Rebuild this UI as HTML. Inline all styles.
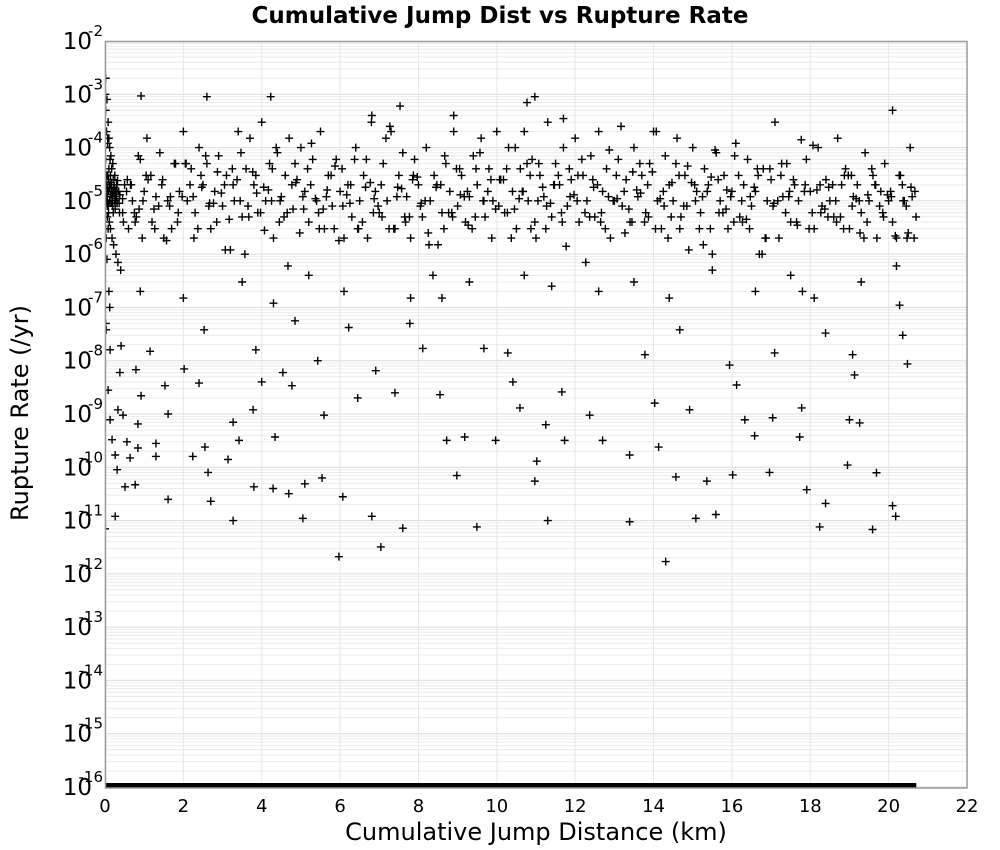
<!DOCTYPE html>
<html><head><meta charset="utf-8"><style>
html,body{margin:0;padding:0;background:#fff;}
svg{display:block;font-family:"Liberation Sans","DejaVu Sans",sans-serif;}
</style></head><body>
<svg id="chart" width="1000" height="850">
<text x="500" y="23" text-anchor="middle" font-size="23" font-weight="bold" font-family="DejaVu Sans, sans-serif">Cumulative Jump Dist vs Rupture Rate</text>
<g id="grid"></g>
<g id="yticks"></g>
<g id="xticks"></g>
<defs><clipPath id="pc"><rect x="105" y="41" width="862" height="747"/></clipPath></defs>
<g id="marks" clip-path="url(#pc)"></g>
<rect x="105.5" y="41.5" width="861.5" height="746.5" fill="none" stroke="#9a9a9a" stroke-width="1.5"/>
<text x="536" y="840" text-anchor="middle" font-size="24" font-family="DejaVu Sans, sans-serif">Cumulative Jump Distance (km)</text>
<text transform="translate(28,413) rotate(-90)" text-anchor="middle" font-size="24" font-family="DejaVu Sans, sans-serif">Rupture Rate (/yr)</text>
</svg>
<script>
const xTicks = [0,2,4,6,8,10,12,14,16,18,20,22];
const yExps = [-2,-3,-4,-5,-6,-7,-8,-9,-10,-11,-12,-13,-14,-15,-16];
const bandX = [
0.02,0.05,0.08,0.1,0.12,0.15,0.2,0.25,0.3,0.35,
0.03,0.06,0.09,0.11,0.14,0.18,0.22,0.28,0.33,0.4,
0.04,0.07,0.13,0.17,0.21,0.24,0.27,0.31,0.38,0.45,
0.5,0.55,0.6,0.7,0.75,0.85,0.9,0.95,1.0,1.1,
1.2,1.3,1.4,1.5,1.6,1.7,1.8,1.9,2.0,2.1,
2.2,2.3,2.4,2.5,2.6,2.7,2.8,2.9,3.0,3.1,
3.2,3.3,3.4,3.5,3.6,3.7,3.8,3.9,4.0,4.1,
4.2,4.3,4.4,4.5,4.6,4.7,4.8,4.9,5.0,5.1,
5.2,5.3,5.4,5.5,5.6,5.7,5.8,5.9,6.0,6.1,
6.2,6.3,6.4,6.5,6.6,6.7,6.8,6.9,7.0,7.1,
7.2,7.3,7.4,7.5,7.6,7.7,7.8,7.9,8.0,8.1,
8.2,8.3,8.4,8.5,8.6,8.7,8.8,8.9,9.0,9.1,
9.2,9.3,9.4,9.5,9.6,9.7,9.8,9.9,10.0,10.1,
10.2,10.3,10.4,10.5,10.6,10.7,10.8,10.9,11.0,11.1,
11.2,11.3,11.4,11.5,11.6,11.7,11.8,11.9,12.0,12.1,
12.2,12.3,12.4,12.5,12.6,12.7,12.8,12.9,13.0,13.1,
13.2,13.3,13.4,13.5,13.6,13.7,13.8,13.9,14.0,14.1,
14.2,14.3,14.4,14.5,14.6,14.7,14.8,14.9,15.0,15.1,
15.2,15.3,15.4,15.5,15.6,15.7,15.8,15.9,16.0,16.1,
16.2,16.3,16.4,16.5,16.6,16.7,16.8,16.9,17.0,17.1,
17.2,17.3,17.4,17.5,17.6,17.7,17.8,17.9,18.0,18.1,
18.2,18.3,18.4,18.5,18.6,18.7,18.8,18.9,19.0,19.1,
19.2,19.3,19.4,19.5,19.6,19.7,19.8,19.9,20.0,20.1,
20.2,20.3,20.4,20.5,20.6,20.65,20.7,20.55,20.45,20.35,
0.15,0.45,0.65,0.8,1.05,1.25,1.45,1.65,1.85,2.05,
2.25,2.45,2.65,2.85,3.05,3.25,3.45,3.65,3.85,4.05,
4.25,4.45,4.65,4.85,5.05,5.25,5.45,5.65,5.85,6.05,
6.25,6.45,6.65,6.85,7.05,7.25,7.45,7.65,7.85,8.05,
8.25,8.45,8.65,8.85,9.05,9.25,9.45,9.65,9.85,10.05,
10.25,10.45,10.65,10.85,11.05,11.25,11.45,11.65,11.85,12.05,
12.25,12.45,12.65,12.85,13.05,13.25,13.45,13.65,13.85,14.05,
14.25,14.45,14.65,14.85,15.05,15.25,15.45,15.65,15.85,16.05,
16.25,16.45,16.65,16.85,17.05,17.25,17.45,17.65,17.85,18.05,
18.25,18.45,18.65,18.85,19.05,19.25,19.45,19.65,19.85,20.05,
0.01,0.02,0.03,0.05,0.06,0.08,0.1,0.12,0.02,0.04,
0.01,0.03,0.05,0.07,0.09,0.11,0.16,0.19,0.23,0.26,
0.9,2.0,3.5,4.3,5.2,6.1,7.8,9.3,10.7,12.6,
13.5,14.4,15.5,16.6,17.5,18.1,19.3,20.2,11.4,8.6,
0.92,2.6,4.23,10.97,10.77,7.53,20.1,6.81,8.9,11.7];
const bandRate = [
2e-3,8e-4,3e-4,1.5e-4,1e-4,7e-5,5e-5,3e-5,2e-5,1.5e-5,
1e-5,8e-6,6e-6,4e-6,3e-6,2e-6,1.5e-6,1e-6,7e-7,5e-7,
2e-4,1.2e-4,6e-5,4e-5,2.5e-5,1.8e-5,1.2e-5,9e-6,1.3e-5,1.1e-5,
2e-5,1.5e-5,3e-6,1e-5,6e-6,7e-5,6e-5,2e-6,1.5e-5,2.5e-5,
4e-6,1.2e-5,8e-5,2e-6,1e-5,3e-6,5e-5,1.5e-5,2e-4,1e-5,
4e-5,6e-6,1e-4,2e-5,5e-5,3e-6,1.5e-5,7e-5,8e-6,3e-5,
1.2e-6,1e-5,2e-4,5e-6,4e-5,1.5e-4,2e-5,6e-6,3e-4,1e-5,
5e-5,2e-6,8e-5,1.2e-5,3e-5,1.5e-4,7e-6,2.5e-5,1e-4,1.5e-5,
4e-6,6e-5,1e-5,2e-4,3e-6,3e-5,8e-6,6e-5,1.5e-5,2e-6,
2e-5,5e-6,1e-4,1e-5,3e-5,2e-6,3e-4,1.5e-5,6e-6,5e-5,
1e-5,2e-4,3e-6,3e-5,8e-5,1.2e-5,2e-6,6e-5,2e-5,5e-6,
1e-4,1e-5,3e-5,1.5e-6,6e-6,5e-5,1.5e-5,2e-4,8e-6,3e-5,
4e-6,1.2e-5,7e-5,2e-5,1.5e-4,5e-6,4e-5,1e-5,2e-4,2.5e-5,
6e-6,1e-4,1.5e-5,3e-6,4e-5,2e-4,1e-5,6e-5,2e-6,3e-5,
1.2e-5,3e-4,5e-6,5e-5,2e-5,1e-4,8e-6,2.5e-5,1.5e-4,4e-6,
3e-5,1e-5,7e-5,5e-6,2e-4,1.5e-5,4e-5,2e-6,1e-5,6e-5,
8e-6,2.5e-5,4e-6,1e-4,1.2e-5,3e-5,6e-6,5e-5,2e-4,1e-5,
3e-6,7e-5,2e-5,1e-5,1.5e-4,5e-6,3e-5,1.2e-6,1e-4,1.5e-5,
6e-6,4e-5,2e-5,1e-6,8e-5,1e-5,3e-5,3e-6,1.5e-5,1.2e-4,
5e-6,2e-5,6e-5,8e-6,1.5e-5,1e-6,4e-5,1e-5,2.5e-5,3e-4,
2e-6,1.2e-5,5e-5,4e-6,2e-5,1e-5,2e-7,6e-5,1.5e-5,3e-6,
1e-4,8e-6,2.5e-5,1e-5,5e-6,1.5e-4,2e-5,4e-5,3e-6,1.2e-5,
2e-5,6e-6,8e-5,1e-5,3e-5,2e-6,1.5e-5,5e-5,1e-5,4e-6,
2e-6,3e-5,1e-5,2.5e-6,1.2e-5,2e-6,5e-6,1e-4,8e-6,2e-5,
1.3e-5,6e-6,2e-5,5e-6,3e-5,7e-6,2e-5,8e-6,4e-6,5e-5,
1.2e-5,3e-5,8e-6,4e-6,2e-5,4e-5,1e-5,8e-6,3e-5,1.8e-5,
1e-5,4e-6,6e-6,5e-5,1.2e-5,2e-5,6e-6,1.2e-5,3e-6,4e-5,
9e-6,3e-6,1.8e-5,6e-6,2e-5,3e-6,1.2e-5,5e-6,2.5e-5,8e-6,
2.5e-6,1.8e-5,3e-6,6e-6,4e-5,1.5e-5,5e-6,1e-5,2.5e-5,8e-6,
4e-5,7e-6,1.5e-5,3e-5,1e-5,3e-6,2e-5,6e-6,4e-5,1e-5,
6e-6,2.5e-5,4e-6,1.2e-5,3e-5,1.5e-5,4e-6,5e-5,2e-5,3e-6,
1.5e-5,5e-6,3e-5,8e-6,2e-5,1.2e-5,3e-6,2.5e-5,7e-6,4e-6,
1e-5,3e-6,4e-5,2e-6,8e-6,3e-5,1.2e-5,4e-6,1.5e-5,6e-6,
2e-5,5e-6,1e-5,3e-6,3e-5,1e-5,4e-6,2e-5,6e-6,1.5e-5,
1e-3,5e-4,2e-5,1e-5,5e-6,3e-6,2e-7,1e-7,5e-8,3e-5,
1.5e-5,1.2e-5,2e-5,1.5e-5,9e-6,1.8e-5,2.2e-5,1e-5,1.4e-5,7e-6,
2e-7,1.5e-7,3e-7,1.2e-7,4e-7,2e-7,1.5e-7,3e-7,4e-7,2e-7,
3e-7,1.5e-7,5e-7,2e-7,4e-7,1.5e-7,3e-7,6e-7,2.5e-7,1.5e-7,
9.3e-4,9e-4,9e-4,9e-4,7e-4,6e-4,5e-4,4e-4,4e-4,3.5e-4];
const passAX = [
0.07,0.27,0.47,0.67,0.87,1.07,1.27,1.47,1.67,1.87,
2.07,2.27,2.47,2.67,2.87,3.07,3.27,3.47,3.67,3.87,
4.07,4.27,4.47,4.67,4.87,5.07,5.27,5.47,5.67,5.87,
6.07,6.27,6.47,6.67,6.87,7.07,7.27,7.47,7.67,7.87,
8.07,8.27,8.47,8.67,8.87,9.07,9.27,9.47,9.67,9.87,
10.07,10.27,10.47,10.67,10.87,11.07,11.27,11.47,11.67,11.87,
12.07,12.27,12.47,12.67,12.87,13.07,13.27,13.47,13.67,13.87,
14.07,14.27,14.47,14.67,14.87,15.07,15.27,15.47,15.67,15.87,
16.07,16.27,16.47,16.67,16.87,17.07,17.27,17.47,17.67,17.87,
18.07,18.27,18.47,18.67,18.87,19.07,19.27,19.47,19.67,19.87,
20.07,20.27,20.47,20.67];
const passARate = [
3e-5,1e-5,4e-6,2e-5,7e-6,1.5e-4,3e-6,2.5e-5,1.2e-5,6e-6,
5e-5,2e-6,1.8e-5,9e-6,3.5e-5,1.2e-6,2e-5,8e-5,5e-6,1.4e-5,
2.8e-6,4e-5,1e-5,6e-7,2.2e-5,7e-6,1.2e-4,3e-6,1.6e-5,4.5e-5,
8e-6,2e-5,3e-6,6e-5,1.1e-5,5e-6,2.5e-4,1.8e-5,4e-6,3e-5,
9e-6,1.5e-6,2e-5,7e-5,5e-6,1.3e-5,3.5e-6,4e-5,1e-5,2e-6,
2.5e-5,6e-6,1e-4,1.5e-5,3e-6,5e-5,8e-6,2e-5,4e-6,1.2e-5,
3e-5,7e-7,1.8e-5,6e-6,9e-5,1.1e-5,2.5e-6,3.5e-5,1.4e-5,5e-6,
2e-4,8e-6,2.2e-5,3e-6,4.5e-5,1e-5,1.5e-6,2.8e-5,6e-6,1.6e-5,
7e-5,4e-6,1.2e-5,3e-5,2e-6,9e-6,5e-5,1.5e-5,3.5e-6,2e-5,
1.1e-4,6e-6,1.8e-5,4e-6,3e-5,8e-6,2.5e-6,1.3e-5,2e-5,5e-6,
1.2e-5,3e-5,2e-6,1.5e-5];
const passBX = [
0.17,0.37,0.57,0.77,0.97,1.17,1.37,1.57,1.77,1.97,
2.17,2.37,2.57,2.77,2.97,3.17,3.37,3.57,3.77,3.97,
4.17,4.37,4.57,4.77,4.97,5.17,5.37,5.57,5.77,5.97,
6.17,6.37,6.57,6.77,6.97,7.17,7.37,7.57,7.77,7.97,
8.17,8.37,8.57,8.77,8.97,9.17,9.37,9.57,9.77,9.97,
10.17,10.37,10.57,10.77,10.97,11.17,11.37,11.57,11.77,11.97,
12.17,12.37,12.57,12.77,12.97,13.17,13.37,13.57,13.77,13.97,
14.17,14.37,14.57,14.77,14.97,15.17,15.37,15.57,15.77,15.97,
16.17,16.37,16.57,16.77,16.97,17.17,17.37,17.57,17.77,17.97,
18.17,18.37,18.57,18.77,18.97,19.17,19.37,19.57,19.77,19.97,
20.17,20.37,20.57];
const passBRate = [
1.5e-5,6e-6,2.5e-5,4e-6,1e-5,3e-5,8e-6,1.8e-6,5e-5,1.2e-5,
2e-5,3e-6,7e-5,9e-6,1.4e-5,4.5e-6,2.5e-5,1e-6,3.5e-5,6e-6,
1.6e-5,1e-4,5e-6,2e-5,2.5e-6,4e-5,1.1e-5,7e-6,3e-5,1.8e-6,
1.3e-5,6e-5,4e-6,2.2e-5,8e-6,1.5e-4,3e-6,1.7e-5,5e-6,2.8e-5,
1e-5,4e-7,2e-5,6e-6,4e-5,1.2e-5,3e-6,8e-5,1.5e-5,7e-6,
2.5e-5,2e-6,1.1e-5,5e-5,4e-6,1.8e-5,9e-6,3e-5,1.4e-6,1.3e-5,
6e-5,5e-6,2e-5,3e-6,1e-5,2.5e-4,7e-6,1.6e-5,4e-6,3.5e-5,
1.1e-5,2e-6,5e-5,8e-6,2.2e-5,3e-6,1.5e-5,9e-5,6e-6,1.2e-5,
3e-5,4.5e-6,1.8e-5,1e-6,4e-5,1e-5,6e-6,2.5e-5,1.4e-4,3e-6,
1.6e-5,7e-6,2e-5,5e-6,3e-5,1.1e-5,2e-6,4e-5,8e-6,1.3e-5,
2.2e-6,1e-5,1.8e-5];
const leftX = [0.01,0.02,0.04,0.05,0.06,0.08,0.09,0.1,0.12,0.14,0.15,0.18,0.2,0.22,0.25,0.28,0.3,0.02,0.03,0.05,0.07,0.1,0.13,0.16,0.19,0.21,0.24,0.29,0.32,0.36];
const leftRate = [1e-4,6e-5,3e-5,1.8e-5,1.2e-5,8e-6,2.5e-5,1.5e-5,1e-5,3e-5,2e-5,1.3e-5,8e-6,1.7e-5,1e-5,1.4e-5,2e-5,3e-6,2e-6,8e-7,1.5e-4,4e-5,2e-5,9e-6,1.2e-5,6e-6,1.6e-5,1.1e-5,2.4e-5,9e-6];
const lowX = [
0.03,0.08,0.13,0.18,0.26,0.31,0,0.26,0.13,0.33,
0.41,0.38,0.46,0.56,0.64,0.77,0.51,0.84,0.84,0.92,
0.79,1.15,1.3,1.3,1.61,1.61,1.53,2.02,2.24,2.4,
2.55,2.63,2.53,2.7,3.14,3.27,3.27,3.42,3.78,3.8,
3.85,4.0,4.29,4.34,4.54,4.69,4.77,4.85,5.1,5.05,
5.43,5.54,5.59,5.97,6.07,6.22,6.45,6.91,7.04,6.81,
7.6,7.4,7.78,8.11,8.55,8.72,8.98,9.18,9.49,9.67,
9.97,10.28,10.41,10.59,10.97,11.02,11.25,11.3,11.66,11.73,
12.37,12.7,13.39,13.39,13.78,14.03,14.13,14.31,14.57,14.67,
14.92,15.08,15.36,15.59,15.94,16.02,16.12,16.33,16.58,16.96,
17.04,17.09,17.78,17.91,17.73,18.24,18.39,18.39,19.08,19.13,
19.0,18.95,19.26,19.69,19.59,20.1,20.18,20.48,20.36,20.28];
const lowRate = [
3.8e-8,2.8e-9,7.8e-10,3.3e-10,1.7e-10,9e-11,7e-12,1.2e-11,1.6e-8,1.2e-9,
1.9e-8,6e-9,9.5e-10,3e-10,1.5e-10,4.7e-11,4.3e-11,2.3e-10,6.5e-10,2.2e-9,
6.8e-9,1.5e-8,2.8e-10,1.6e-10,2.5e-11,1e-9,3.4e-9,7e-9,1.6e-10,3.8e-9,
2.4e-10,8e-11,3.8e-8,2.3e-11,1.4e-10,7e-10,1e-11,3.2e-10,1.2e-9,4.3e-11,
1.6e-8,4e-9,4e-11,3.7e-10,6e-9,3.2e-11,3.4e-9,5.6e-8,4.9e-11,1.1e-11,
1e-8,6.3e-11,9.5e-10,2.1e-12,2.8e-11,4.2e-8,2e-9,6.5e-9,3.2e-12,1.2e-11,
7.2e-12,2.5e-9,5e-8,1.7e-8,2.3e-9,3.2e-10,7e-11,3.7e-10,7.6e-12,1.7e-8,
3.2e-10,1.4e-8,4e-9,1.3e-9,5.5e-11,1.3e-10,6.3e-10,1e-11,2.6e-9,3.2e-10,
9.5e-10,3.2e-10,1.7e-10,9.5e-12,1.3e-8,1.6e-9,2.4e-10,1.7e-12,6.6e-11,3.8e-8,
1.2e-9,1.1e-11,5.5e-11,1.3e-11,8.3e-9,7.2e-11,3.5e-9,7.8e-10,3.9e-10,8e-11,
8.5e-10,1.4e-8,1.3e-9,3.8e-11,3.7e-10,7.6e-12,2.1e-11,3.3e-8,1.3e-8,5.4e-9,
7.8e-10,1.1e-10,6.8e-10,7.9e-11,6.8e-12,1.9e-11,1.2e-11,8.7e-9,3e-8,1.1e-7];
const zeroX = [0,0.5,1,1.5,2,2.5,3,3.5,4,4.5,5,5.5,6,6.5,7,7.5,8,8.5,9,9.5,10,10.5,11,11.5,12,12.5,13,13.5,14,14.5,15,15.5,16,16.5,17,17.5,18,18.5,19,19.5,20,20.4];

const NS='http://www.w3.org/2000/svg';
const X0=105,X1=967,Y0=41,Y1=787,XMAX=22,EMAX=-2,EMIN=-16;
const sx=v=>X0+(v/XMAX)*(X1-X0);
const sy=r=>Y0+((EMAX-Math.log10(Math.max(r,1e-16)))/(EMAX-EMIN))*(Y1-Y0);
function mk(tag,attrs,parent){const e=document.createElementNS(NS,tag);for(const k in attrs)e.setAttribute(k,attrs[k]);parent.appendChild(e);return e;}

const grid=document.getElementById('grid');
for(let e=EMAX;e>EMIN;e--){for(let m=1;m<10;m++){const y=sy(m*Math.pow(10,e-1));
const l=mk('line',{x1:X0,x2:X1,y1:y,y2:y,stroke:m===1?'#dcdcdc':'#ececec','stroke-width':1},grid);

}}
xTicks.forEach(t=>{const x=sx(t);
const l=mk('line',{x1:x,x2:x,y1:Y0,y2:Y1,stroke:'#e6e6e6','stroke-width':1},grid);

});

const yt=document.getElementById('yticks');
yExps.forEach(e=>{const y=sy(Math.pow(10,e));
const g=mk('g',{},yt);


const a=mk('text',{x:92,y:y+8,'text-anchor':'end','font-size':23,'font-family':'DejaVu Sans, sans-serif'},g);a.textContent='10';
const b=mk('text',{x:103,y:y-5,'text-anchor':'end','font-size':15,'font-family':'DejaVu Sans, sans-serif'},g);b.textContent=String(e);});

const xt=document.getElementById('xticks');
xTicks.forEach(t=>{const tx=mk('text',{x:sx(t),y:812,'text-anchor':'middle','font-size':18,'font-family':'DejaVu Sans, sans-serif'},xt);
tx.textContent=String(t);

});

const marks=document.getElementById('marks');
function plus(x,r){const cx=sx(x),cy=sy(r);
const p=mk('path',{d:`M${cx-4} ${cy}H${cx+4}M${cx} ${cy-4}V${cy+4}`,stroke:'#000','stroke-width':1.4,fill:'none'},marks);

}
bandX.forEach((x,i)=>plus(x,bandRate[i]));
passAX.forEach((x,i)=>plus(x,passARate[i]));
passBX.forEach((x,i)=>plus(x,passBRate[i]));
leftX.forEach((x,i)=>plus(x,leftRate[i]));
lowX.forEach((x,i)=>plus(x,lowRate[i]));
zeroX.forEach(x=>{const cx=sx(x);
const r=mk('rect',{x:cx-12,y:Y1-4,width:24,height:6,fill:'#000'},marks);

});
</script>
</body></html>
